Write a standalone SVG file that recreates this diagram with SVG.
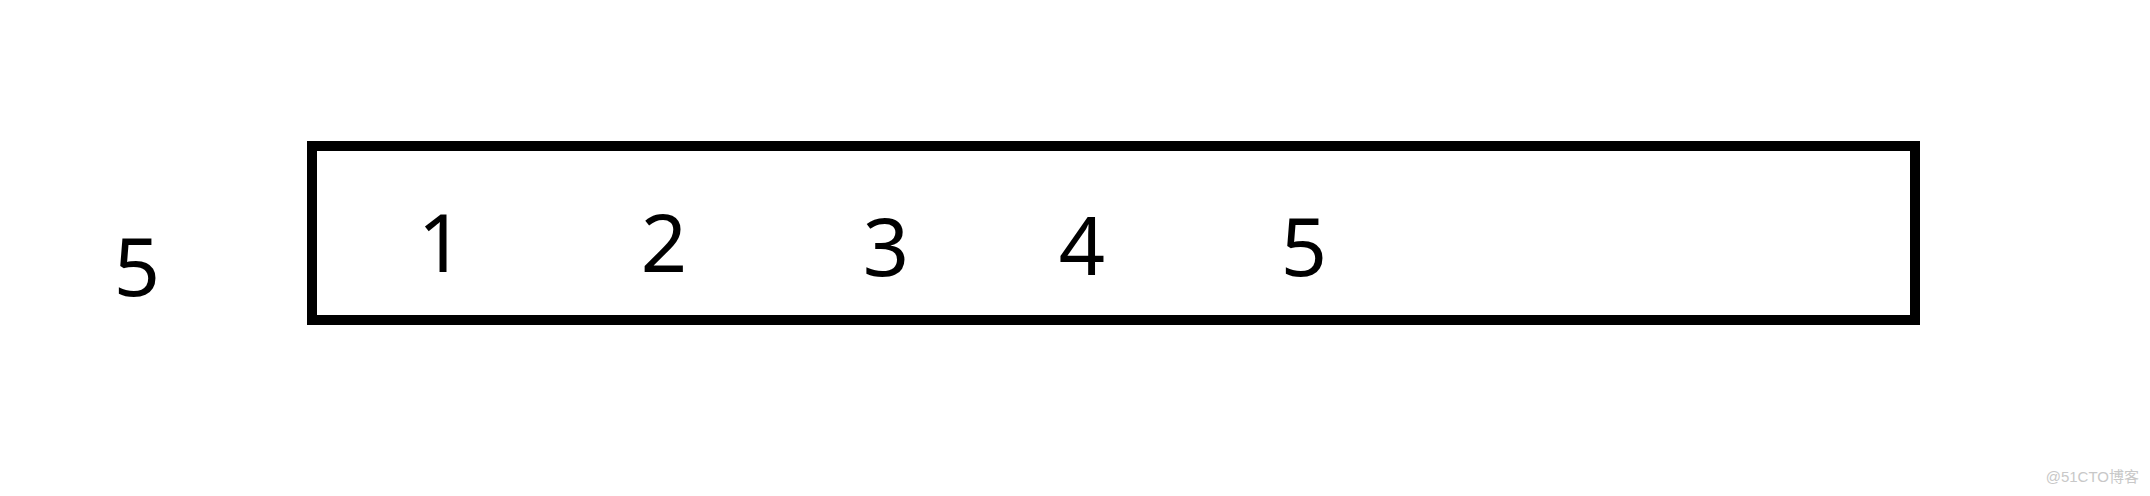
<svg xmlns="http://www.w3.org/2000/svg" width="2150" height="496" viewBox="0 0 2150 496">
<style>
.num{font-family:"Noto Sans","Open Sans","DejaVu Sans",sans-serif;font-size:81px;fill:#000;text-anchor:middle}
.box{fill:none;stroke:#000;stroke-width:10}
.wm{font-family:"Liberation Sans","Noto Sans CJK SC",sans-serif;font-size:15px;fill:#c8c8c8;text-anchor:end}
</style>
<rect width="2150" height="496" fill="#fff"/>
<g id="label-left"><text class="num" x="137" y="296">5</text></g>
<g id="queue">
<rect class="box" x="312" y="146" width="1603" height="174"/>
<text class="num" x="441" y="272">1</text>
<text class="num" x="664" y="272">2</text>
<text class="num" x="886" y="276">3</text>
<text class="num" x="1082" y="275">4</text>
<text class="num" x="1304" y="276">5</text>
</g>
<g id="connectors"></g>
<text class="wm" x="2139" y="482">@51CTO博客</text>
</svg>
